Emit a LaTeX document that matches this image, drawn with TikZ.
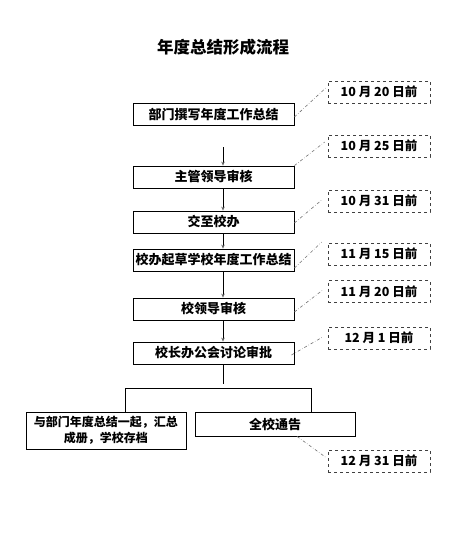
\documentclass[tikz,border=0pt]{standalone}
\usepackage{fontspec}
\setmainfont{Noto Sans CJK SC}
\usetikzlibrary{arrows.meta}
\begin{document}
\begin{tikzpicture}[x=1pt,y=-1pt,
  mainbox/.style={draw=black, line width=0.8pt, minimum width=161pt, minimum height=22pt, inner sep=0pt,
    font=\fontsize{13}{15}\selectfont\bfseries},
  datebox/.style={draw=black!75, dashed, line width=0.6pt, minimum width=102pt, minimum height=22pt, inner sep=0pt,
    font=\fontsize{12.5}{14}\selectfont\bfseries},
  link/.style={draw=black!55, dash dot, line width=0.6pt},
  flow/.style={draw=black, line width=0.6pt, -{Stealth[length=4pt,width=3.5pt,color=black!60]}},
  plain/.style={draw=black, line width=0.7pt}]
\useasboundingbox (0,0) rectangle (457,552);
\fill[white] (0,0) rectangle (457,552);
\node[font=\fontsize{16.5}{18}\selectfont\bfseries] (title) at (223,47) {年度总结形成流程};
% main column
\node[mainbox] (b1) at (213.5,114) {部门撰写年度工作总结};
\node[mainbox] (b2) at (213.5,177) {主管领导审核};
\node[mainbox] (b3) at (213.5,222) {交至校办};
\node[mainbox] (b4) at (213.5,260) {校办起草学校年度工作总结};
\node[mainbox] (b5) at (213.5,309) {校领导审核};
\node[mainbox] (b6) at (213.5,353) {校长办公会讨论审批};
\node[mainbox, minimum width=160pt, minimum height=37pt, align=center,
  font=\fontsize{12}{16}\selectfont\bfseries] (L) at (106,430.5) {与部门年度总结一起，汇总\\成册，学校存档};
\node[mainbox, minimum width=160pt, minimum height=24pt] (R) at (275,424) {全校通告};
% date boxes
\node[datebox] (d1) at (379,92) {10 月 20 日前};
\node[datebox] (d2) at (379,146) {10 月 25 日前};
\node[datebox] (d3) at (379,201) {10 月 31 日前};
\node[datebox] (d4) at (379,254) {11 月 15 日前};
\node[datebox] (d5) at (379,291.5) {11 月 20 日前};
\node[datebox] (d6) at (379,338) {12 月 1 日前};
\node[datebox] (d7) at (379,461) {12 月 31 日前};
% flow arrows
\coordinate (a1) at (223,147);
\draw[flow] (a1) -- (a1 |- b2.north);
\draw[flow] (b2.south -| a1) -- (b3.north -| a1);
\draw[flow] (b3.south -| a1) -- (b4.north -| a1);
\draw[flow] (b4.south -| a1) -- (b5.north -| a1);
\draw[flow] (b5.south -| a1) -- (b6.north -| a1);
% branch
\coordinate (j) at (223,384);
\coordinate (hl) at (125,388);
\coordinate (hr) at (311,388);
\draw[plain] (b6.south -| a1) -- (j);
\draw[plain] (hl |- L.north) -- (hl) -- (hr) -- (hr |- R.north);
% date links
\draw[link] ([yshift=-3pt]b1.east) -- ([xshift=-2pt,yshift=4pt]d1.west);
\draw[link] (b2.north east) -- ([xshift=-3pt,yshift=4pt]d2.west);
\draw[link] ([yshift=-1pt]b3.east) -- ([xshift=-6pt,yshift=1pt]d3.west);
\draw[link] ([yshift=-8pt]b4.east) -- ([xshift=-6pt,yshift=12pt]d4.west);
\draw[link] ([yshift=-3pt]b5.east) -- ([xshift=-5pt,yshift=1.5pt]d5.west);
\draw[link] ([xshift=-3pt,yshift=-2pt]b6.east) -- ([xshift=-5pt,yshift=1pt]d6.west);
\draw[link] ([xshift=22pt]R.south) -- ([xshift=-1pt,yshift=3pt]d7.west);
\end{tikzpicture}
\end{document}
